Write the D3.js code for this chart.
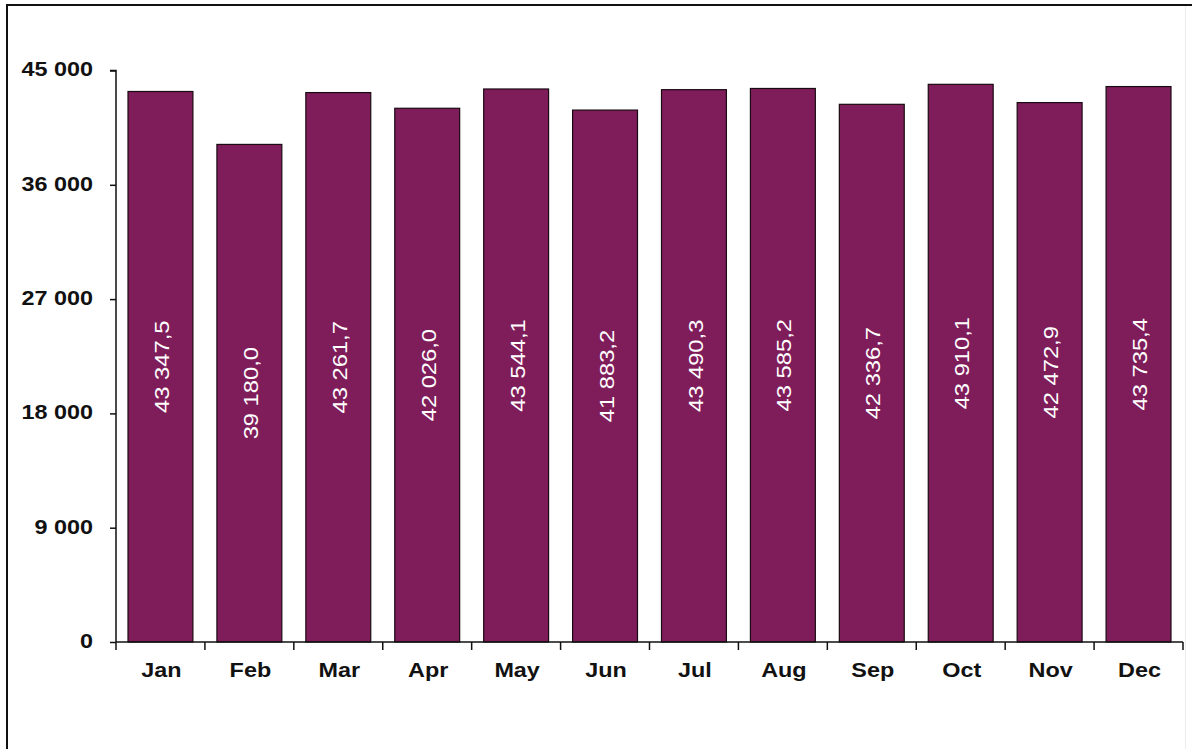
<!DOCTYPE html>
<html><head><meta charset="utf-8">
<script src="https://cdn.jsdelivr.net/npm/d3@7"></script>
<style>body{margin:0;background:#fff}svg{display:block}</style>
</head><body>
<script>
const categories = ["Jan","Feb","Mar","Apr","May","Jun","Jul","Aug","Sep","Oct","Nov","Dec"];
const values = [43347.5,39180.0,43261.7,42026.0,43544.1,41883.2,43490.3,43585.2,42336.7,43910.1,42472.9,43735.4];
const yTicks = [0,9000,18000,27000,36000,45000];

const W = 1192, H = 749;
const m = {left:116, right:W-1183, top:70.5, bottom:H-642};
const FONT = "Liberation Sans, Arial, sans-serif";
const svg = d3.select("body").append("svg").attr("width",W).attr("height",H);
svg.append("rect").attr("width",W).attr("height",H).attr("fill","#fff");
// frame
svg.append("line").attr("x1",7).attr("x2",7).attr("y1",5).attr("y2",H).attr("stroke","#111").attr("stroke-width",2);
svg.append("line").attr("x1",6).attr("x2",W).attr("y1",5).attr("y2",5).attr("stroke","#111").attr("stroke-width",2);
svg.append("line").attr("x1",1185.5).attr("x2",1185.5).attr("y1",6).attr("y2",H).attr("stroke","#ececec").attr("stroke-width",1);

const x = d3.scaleBand().domain(categories).range([m.left, W-m.right]).paddingInner(0.27).paddingOuter(0.135);
const xa = d3.scaleBand().domain(categories).range([m.left, W-m.right]);
const y = d3.scaleLinear().domain([0,45000]).range([H-m.bottom, m.top]);
const fmt = v => d3.format(",.1f")(v).replace(/,/g," ").replace(".",",");
const fmtT = v => d3.format(",")(v).replace(/,/g," ");

const g = svg.append("g");
g.selectAll("rect.bar").data(values).join("rect").attr("class","bar")
  .attr("x",(d,i)=>x(categories[i])).attr("width",x.bandwidth())
  .attr("y",d=>y(d)).attr("height",d=>y(0)-y(d))
  .attr("fill","#7f1d5b").attr("stroke","#1a0a12").attr("stroke-width",1.2);

g.selectAll("text.lbl").data(values).join("text").attr("class","lbl")
  .attr("transform",(d,i)=>`translate(${x(categories[i])+x.bandwidth()/2+1},${(y(d)+y(0))/2}) rotate(-90) scale(1.13,1)`)
  .attr("text-anchor","middle").attr("dy","0.36em")
  .attr("fill","#fff").attr("font-family",FONT).attr("font-size",21)
  .text(d=>fmt(d));

// y axis
const yAxis = svg.append("g").attr("transform",`translate(${m.left},0)`)
  .call(d3.axisLeft(y).tickValues(yTicks).tickSize(6).tickFormat(fmtT));
yAxis.select(".domain").attr("stroke","#111").attr("stroke-width",1.5).attr("d",`M-6,${y(45000)}H0V${y(0)}`);
yAxis.selectAll(".tick line").attr("stroke","#111").attr("stroke-width",1.5);
yAxis.selectAll(".tick text").attr("x",0).attr("dy","0.33em").attr("transform","translate(-23,-1) scale(1.2,1)")
  .attr("font-family",FONT).attr("font-weight","bold").attr("font-size",19.5).attr("fill","#111");

// x axis
const xAxis = svg.append("g").attr("transform",`translate(0,${y(0)})`)
  .call(d3.axisBottom(xa).tickSize(0));
xAxis.select(".domain").attr("stroke","#111").attr("stroke-width",1.5).attr("d",`M${m.left},0H${W-m.right}`);
xAxis.selectAll(".tick text").attr("y",0).attr("dy",0).attr("transform","translate(1,35) scale(1.2,1)")
  .attr("font-family",FONT).attr("font-weight","bold").attr("font-size",19.5).attr("fill","#111");
const bounds = categories.map(c=>xa(c)).concat([W-m.right]);
xAxis.selectAll("line.sep").data(bounds).join("line").attr("class","sep")
  .attr("x1",d=>d).attr("x2",d=>d).attr("y1",0).attr("y2",8).attr("stroke","#111").attr("stroke-width",1.5);
</script>
</body></html>
